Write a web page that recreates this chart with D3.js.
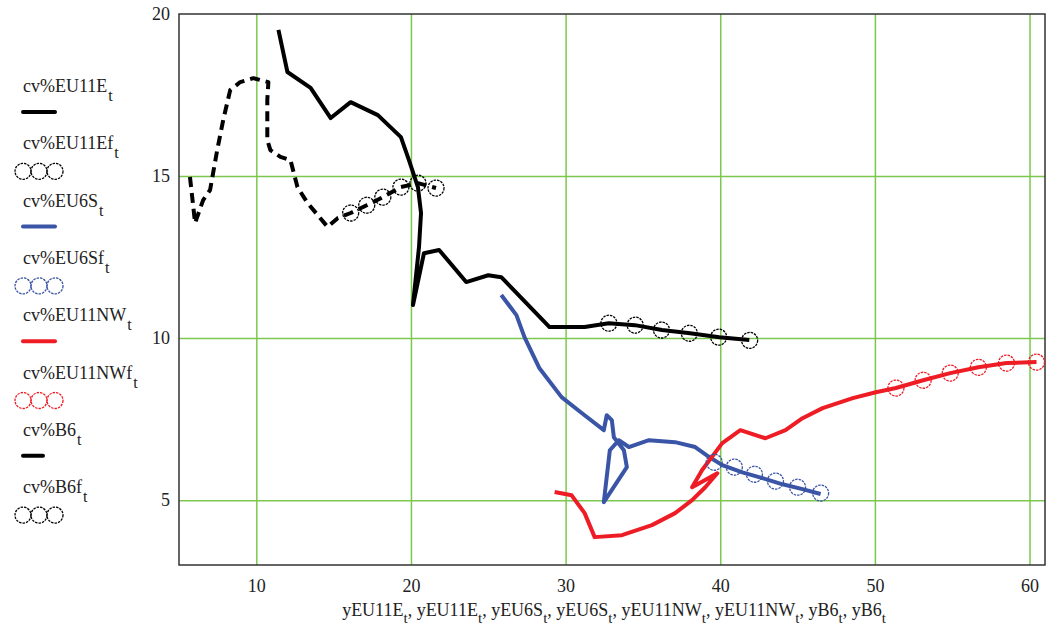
<!DOCTYPE html>
<html>
<head>
<meta charset="utf-8">
<script src="https://cdn.jsdelivr.net/npm/d3@7"></script>
<style>
  body { margin: 0; background: #fff; }
  svg text { font-family: "Liberation Serif", "DejaVu Serif", serif; fill: #222; }
</style>
</head>
<body>
<svg id="chart" width="1051" height="634"></svg>
<script>
// axis ticks
const xTicks = [10, 20, 30, 40, 50, 60];
const yTicks = [5, 10, 15, 20];

// EU11E measured (solid black)
const eu11eX = [11.43, 12.01, 13.51, 14.81, 16.10, 17.86, 19.35, 19.87, 20.45, 20.65, 20.52, 20.13, 20.84, 21.82, 23.57, 25.0, 25.84, 28.96, 31.23, 32.79, 34.48, 36.23, 38.05, 39.94, 41.88];
const eu11eY = [19.51, 18.21, 17.72, 16.79, 17.28, 16.88, 16.20, 15.49, 14.66, 13.86, 12.81, 11.02, 12.62, 12.72, 11.73, 11.94, 11.88, 10.34, 10.34, 10.46, 10.40, 10.25, 10.15, 10.03, 9.94];
// EU11E fit (circles)
const eu11efX = [32.8, 34.5, 36.2, 38.0, 39.9, 41.9];
const eu11efY = [10.46, 10.40, 10.25, 10.15, 10.03, 9.93];

// EU6S measured (blue)
const eu6sX = [25.84, 26.82, 27.34, 28.31, 29.74, 31.04, 32.47, 32.66, 32.99, 33.12, 33.77, 33.96, 32.47, 32.86, 33.44, 34.09, 35.39, 37.08, 38.38, 39.29, 40.13, 41.43, 42.73, 44.03, 45.32, 46.49];
const eu6sY = [11.33, 10.71, 10.03, 9.07, 8.18, 7.69, 7.16, 7.62, 7.47, 6.94, 6.54, 6.02, 4.94, 6.54, 6.85, 6.64, 6.85, 6.79, 6.64, 6.33, 6.08, 5.86, 5.68, 5.49, 5.34, 5.19];
// EU6S fit
const eu6sfX = [39.61, 40.91, 42.21, 43.57, 45.0, 46.49];
const eu6sfY = [6.17, 6.02, 5.80, 5.59, 5.40, 5.22];

// EU11NW measured (red)
const eu11nwX = [29.29, 30.39, 31.23, 31.88, 33.64, 35.58, 37.08, 38.18, 39.03, 39.81, 38.18, 38.83, 40.13, 41.30, 42.92, 44.22, 45.32, 46.62, 48.57, 50.06, 51.36, 53.12, 54.87, 56.69, 58.51, 60.45];
const eu11nwY = [5.25, 5.15, 4.60, 3.86, 3.92, 4.23, 4.60, 5.0, 5.40, 5.83, 5.40, 5.93, 6.76, 7.16, 6.91, 7.16, 7.53, 7.84, 8.15, 8.33, 8.46, 8.70, 8.92, 9.10, 9.23, 9.26];
// EU11NW fit
const eu11nwfX = [51.36, 53.12, 54.87, 56.69, 58.51, 60.45];
const eu11nwfY = [8.46, 8.70, 8.92, 9.10, 9.23, 9.26];

// B6 measured (dashed black)
const b6X = [5.71, 6.04, 6.56, 7.01, 7.47, 7.86, 8.31, 8.96, 9.81, 10.78, 10.71, 10.71, 10.91, 11.56, 12.21, 12.66, 13.31, 13.70, 14.61, 15.26, 16.10, 17.14, 18.18, 19.35, 20.45, 21.62];
const b6Y = [14.97, 13.55, 14.26, 14.57, 15.80, 16.73, 17.65, 17.90, 18.02, 17.90, 17.35, 16.11, 15.80, 15.59, 15.49, 14.66, 14.17, 13.95, 13.43, 13.70, 13.86, 14.10, 14.35, 14.66, 14.78, 14.63];
// B6 fit
const b6fX = [16.10, 17.14, 18.18, 19.35, 20.45, 21.62];
const b6fY = [13.86, 14.10, 14.35, 14.66, 14.78, 14.63];

const legendLabels = ["cv%EU11E", "cv%EU11Ef", "cv%EU6S", "cv%EU6Sf", "cv%EU11NW", "cv%EU11NWf", "cv%B6", "cv%B6f"];
const axisTitleParts = ["yEU11E", "yEU11E", "yEU6S", "yEU6S", "yEU11NW", "yEU11NW", "yB6", "yB6"];

const svg = d3.select("#chart");
const pLeft = 179, pRight = 1045, pTop = 14, pBottom = 565;

const x = d3.scaleLinear().domain([5, 61]).range([pLeft, pRight]);
const y = d3.scaleLinear().domain([3, 20]).range([pBottom, pTop]);

const grid = "#7cc84e";

// vertical grid
svg.append("g")
  .attr("transform", "translate(0," + pBottom + ")")
  .call(d3.axisBottom(x).tickValues(xTicks).tickSize(-(pBottom - pTop)).tickFormat(""))
  .call(g => g.select(".domain").remove())
  .call(g => g.selectAll("line").attr("stroke", grid).attr("stroke-width", 1.5));

// horizontal grid
svg.append("g")
  .attr("transform", "translate(" + pLeft + ",0)")
  .call(d3.axisLeft(y).tickValues(yTicks.filter(v => v < 20)).tickSize(-(pRight - pLeft)).tickFormat(""))
  .call(g => g.select(".domain").remove())
  .call(g => g.selectAll("line").attr("stroke", grid).attr("stroke-width", 1.5));

// tick labels
svg.append("g")
  .attr("transform", "translate(0," + pBottom + ")")
  .call(d3.axisBottom(x).tickValues(xTicks).tickSize(0).tickPadding(14))
  .call(g => g.select(".domain").remove())
  .call(g => g.selectAll("text").style("font-size", "18px").style("font-family", "Liberation Serif").attr("fill", "#222"));

svg.append("g")
  .attr("transform", "translate(" + pLeft + ",0)")
  .call(d3.axisLeft(y).tickValues(yTicks).tickSize(0).tickPadding(9))
  .call(g => g.select(".domain").remove())
  .call(g => g.selectAll("text").style("font-size", "18px").style("font-family", "Liberation Serif").attr("fill", "#222"));

// frame
svg.append("rect")
  .attr("x", pLeft).attr("y", pTop)
  .attr("width", pRight - pLeft).attr("height", pBottom - pTop)
  .attr("fill", "none").attr("stroke", "#333").attr("stroke-width", 1.5);

const line = d3.line().x(d => x(d[0])).y(d => y(d[1]));
const zip = (a, b) => a.map((v, i) => [v, b[i]]);

function drawLine(xs, ys, color, dash) {
  svg.append("path")
    .attr("d", line(zip(xs, ys)))
    .attr("fill", "none")
    .attr("stroke", color)
    .attr("stroke-width", 4)
    .attr("stroke-linejoin", "round")
    .attr("stroke-dasharray", dash || null);
}

function drawCircles(xs, ys, color) {
  svg.append("g").selectAll("circle")
    .data(zip(xs, ys))
    .enter()
    .append("circle")
    .attr("cx", d => x(d[0]))
    .attr("cy", d => y(d[1]))
    .attr("r", 8)
    .attr("fill", "none")
    .attr("stroke", color)
    .attr("stroke-width", 1.3)
    .attr("stroke-dasharray", "2.5,1");
}

const black = "#000", blue = "#3a54a6", red = "#ee1c24";

drawLine(b6X, b6Y, black, "10,6");
drawLine(eu11eX, eu11eY, black);
drawLine(eu6sX, eu6sY, blue);
drawLine(eu11nwX, eu11nwY, red);
drawCircles(b6fX, b6fY, black);
drawCircles(eu11efX, eu11efY, black);
drawCircles(eu6sfX, eu6sfY, blue);
drawCircles(eu11nwfX, eu11nwfY, red);

// legend
const legendStyle = [
  {kind: "line", color: black, len: 32},
  {kind: "circ", color: black},
  {kind: "line", color: blue, len: 32},
  {kind: "circ", color: blue},
  {kind: "line", color: red, len: 32},
  {kind: "circ", color: red},
  {kind: "line", color: black, len: 20},
  {kind: "circ", color: black}
];

legendLabels.forEach((lab, i) => {
  const by = 92 + i * 57.3;
  const t = svg.append("text").attr("x", 23).attr("y", by).style("font-size", "18px");
  t.append("tspan").text(lab);
  t.append("tspan").attr("dx", 1).attr("dy", 9).style("font-size", "16px").text("t");
  const st = legendStyle[i];
  const my = by + 20;
  if (st.kind === "line") {
    svg.append("line")
      .attr("x1", 23).attr("x2", 23 + st.len)
      .attr("y1", my).attr("y2", my)
      .attr("stroke", st.color).attr("stroke-width", 4).attr("stroke-linecap", "round");
  } else {
    [23, 39, 55].forEach(cx => {
      svg.append("circle")
        .attr("cx", cx).attr("cy", my + 2).attr("r", 8)
        .attr("fill", "none").attr("stroke", st.color)
        .attr("stroke-width", 1.3).attr("stroke-dasharray", "2.5,1");
    });
  }
});

// x axis title
const title = svg.append("text")
  .attr("x", (pLeft + pRight) / 2 + 2)
  .attr("y", 616)
  .attr("text-anchor", "middle")
  .style("font-size", "18px");
axisTitleParts.forEach((p, i) => {
  title.append("tspan").attr("dy", i === 0 ? 0 : -7).text((i === 0 ? "" : ", ") + p);
  title.append("tspan").attr("dy", 7).style("font-size", "15px").text("t");
});
</script>
</body>
</html>
